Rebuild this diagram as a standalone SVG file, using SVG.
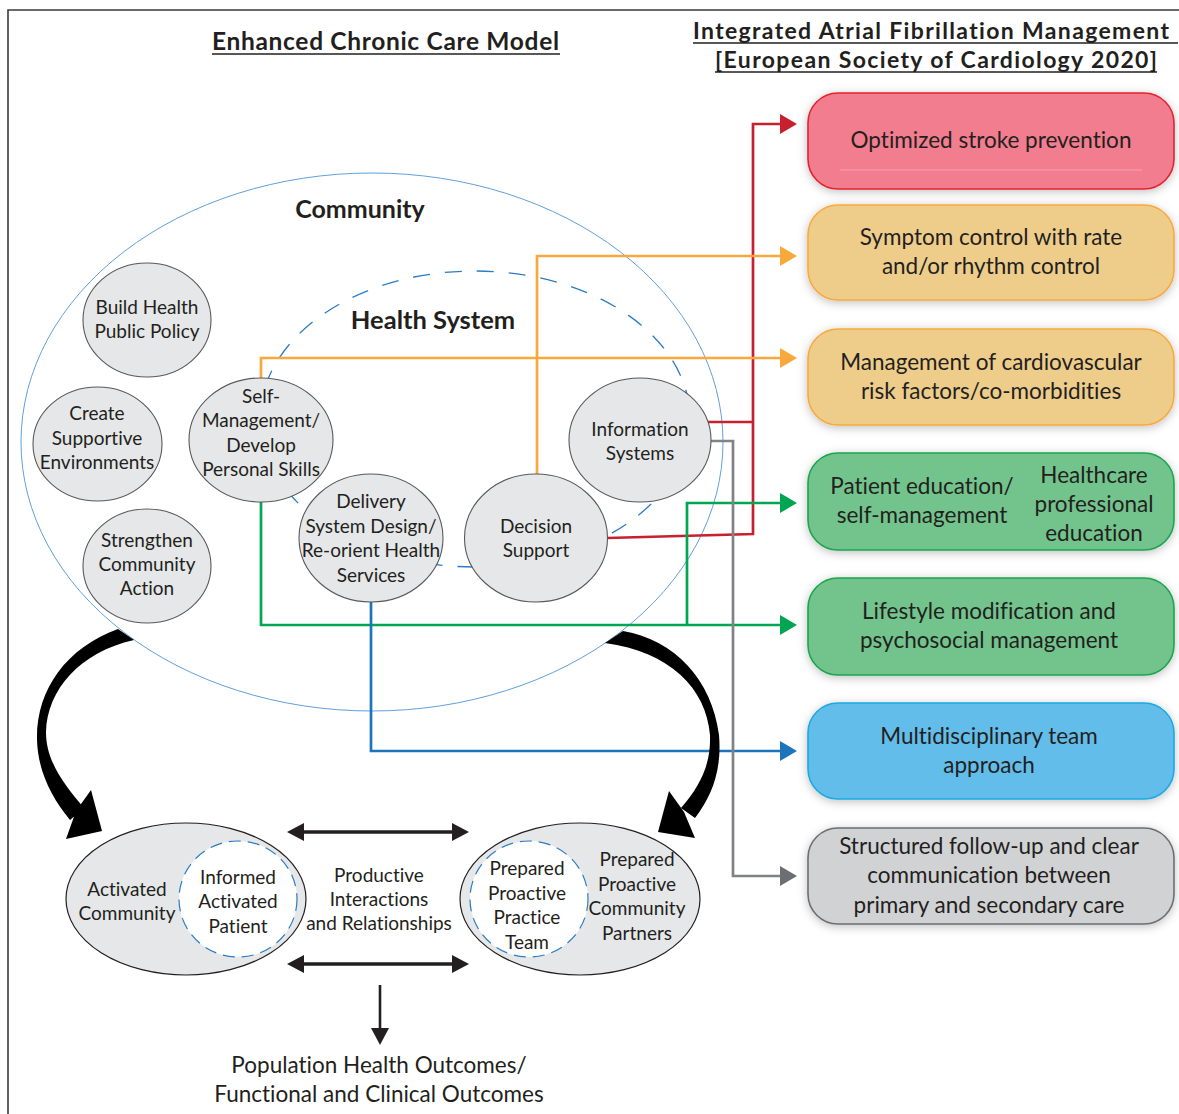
<svg xmlns="http://www.w3.org/2000/svg" width="1179" height="1114" viewBox="0 0 1179 1114">
<defs>
<style>
text{font-family:Lato,"Liberation Sans",sans-serif;fill:#231f20;font-variant-ligatures:none;}
.t{font-size:19px;text-anchor:middle;}
.bt{font-size:22.5px;text-anchor:middle;}
.bb{font-size:22.5px;text-anchor:middle;}
.h{font-weight:bold;}
.circ{fill:#e6e7e8;stroke:#58595b;stroke-width:1.1;}
.conn{fill:none;stroke-width:2.7;stroke-linejoin:miter;}
.box{stroke-width:1.6;filter:url(#sh);}
.gl{stroke:#fff;stroke-opacity:0.3;stroke-width:1;}
</style>
<filter id="sh" x="-10%" y="-20%" width="120%" height="140%">
<feDropShadow dx="0" dy="2" stdDeviation="5" flood-color="#000" flood-opacity="0.25"/>
</filter>
<marker id="mR" markerUnits="userSpaceOnUse" markerWidth="18" markerHeight="20" refX="2" refY="10" orient="auto"><path d="M0,0 L17,10 L0,20 Z" fill="#c8202f"/></marker>
<marker id="mO" markerUnits="userSpaceOnUse" markerWidth="18" markerHeight="20" refX="2" refY="10" orient="auto"><path d="M0,0 L17,10 L0,20 Z" fill="#f9a93b"/></marker>
<marker id="mG" markerUnits="userSpaceOnUse" markerWidth="18" markerHeight="20" refX="2" refY="10" orient="auto"><path d="M0,0 L17,10 L0,20 Z" fill="#00a651"/></marker>
<marker id="mB" markerUnits="userSpaceOnUse" markerWidth="18" markerHeight="20" refX="2" refY="10" orient="auto"><path d="M0,0 L17,10 L0,20 Z" fill="#1c75bc"/></marker>
<marker id="mY" markerUnits="userSpaceOnUse" markerWidth="18" markerHeight="20" refX="2" refY="10" orient="auto"><path d="M0,0 L17,10 L0,20 Z" fill="#6d6e71"/></marker>
<marker id="mK" markerUnits="userSpaceOnUse" markerWidth="18" markerHeight="20" refX="2" refY="9" orient="auto-start-reverse"><path d="M0,0 L17,9 L0,18 Z" fill="#231f20"/></marker>
</defs>
<rect width="1179" height="1114" fill="#fff"/>
<path d="M8,1114 V10 H1179" fill="none" stroke="#3a3a3a" stroke-width="1.6"/>

<g id="titles">
<text x="212" y="50" class="h" style="font-size:24.5px" textLength="347" lengthAdjust="spacing">Enhanced Chronic Care Model</text>
<line x1="212" y1="54" x2="560" y2="54" stroke="#231f20" stroke-width="1.5"/>
<text x="693" y="39" class="h" style="font-size:23px" textLength="476" lengthAdjust="spacing">Integrated Atrial Fibrillation Management</text>
<line x1="693" y1="43" x2="1178" y2="43" stroke="#231f20" stroke-width="1.5"/>
<text x="715" y="68" class="h" style="font-size:23px" textLength="442" lengthAdjust="spacing">[European Society of Cardiology 2020]</text>
<line x1="715" y1="72" x2="1157" y2="72" stroke="#231f20" stroke-width="1.5"/>
</g>

<g id="community">
<ellipse cx="372" cy="442" rx="351" ry="269" fill="none" stroke="#5fa0dc" stroke-width="1"/>
<text x="360" y="218" class="h" style="font-size:25px" text-anchor="middle">Community</text>
</g>
<g id="health-system">
<ellipse cx="475" cy="419" rx="215" ry="148" fill="none" stroke="#2b7cc4" stroke-width="1.3" stroke-dasharray="17 15"/>
<text x="433" y="329" class="h" style="font-size:25.5px" text-anchor="middle">Health System</text>
</g>

<g id="connectors">
<path class="conn" stroke="#c8202f" d="M607,538 L753,534 L753,124 L782,124" marker-end="url(#mR)"/>
<path class="conn" stroke="#c8202f" d="M707,422 L753,422"/>
<path class="conn" stroke="#f9a93b" d="M537,474 L537,256 L782,256" marker-end="url(#mO)"/>
<path class="conn" stroke="#f9a93b" d="M261,378 L261,358 L782,358" marker-end="url(#mO)"/>
<path class="conn" stroke="#00a651" d="M261,502 L261,625 L782,625" marker-end="url(#mG)"/>
<path class="conn" stroke="#00a651" d="M687,625 L687,503 L782,503" marker-end="url(#mG)"/>
<path class="conn" stroke="#1c75bc" d="M371,602 L371,751 L782,751" marker-end="url(#mB)"/>
<path class="conn" stroke="#808285" d="M711,441 L733,441 L733,876 L782,876" marker-end="url(#mY)"/>
<path fill="#000" d="M118,629 C66,648 36,690 37,740 C38,772 52,798 70,820 L84,808 C62,782 46,760 46,732 C47,690 80,652 134,640 Z"/>
<path fill="#000" d="M102,831 L91,790 L76,811 L66,839 Z"/>
<path fill="#000" d="M623,631 C675,640 712,680 719,735 C722,770 712,796 695,818 L681,808 C700,786 711,765 710,735 C706,688 670,652 605,643 Z"/>
<path fill="#000" d="M658,832 L669,791 L684,812 L695,838 Z"/>
<line x1="302" y1="832" x2="454" y2="832" stroke="#231f20" stroke-width="3.4" marker-start="url(#mK)" marker-end="url(#mK)"/>
<line x1="302" y1="964" x2="454" y2="964" stroke="#231f20" stroke-width="3.4" marker-start="url(#mK)" marker-end="url(#mK)"/>
<line x1="380" y1="985" x2="380" y2="1030" stroke="#231f20" stroke-width="2.6" marker-end="url(#mK)"/>
</g>

<g id="build-health-public-policy"><ellipse class="circ" cx="147" cy="320" rx="64" ry="57"/><text class="t" x="147" y="314">Build Health</text><text class="t" x="147" y="338">Public Policy</text></g>
<g id="create-supportive-environments"><ellipse class="circ" cx="97.5" cy="444" rx="64.5" ry="57"/><text class="t" x="97" y="420">Create</text><text class="t" x="97" y="445">Supportive</text><text class="t" x="97" y="469">Environments</text></g>
<g id="strengthen-community-action"><ellipse class="circ" cx="147" cy="566" rx="64" ry="57"/><text class="t" x="147" y="547">Strengthen</text><text class="t" x="147" y="571">Community</text><text class="t" x="147" y="595">Action</text></g>
<g id="self-management"><ellipse class="circ" cx="261" cy="440" rx="72" ry="62"/><text class="t" x="261" y="403">Self-</text><text class="t" x="261" y="427">Management/</text><text class="t" x="261" y="452">Develop</text><text class="t" x="261" y="476">Personal Skills</text></g>
<g id="delivery-system-design"><ellipse class="circ" cx="371" cy="538" rx="72" ry="64"/><text class="t" x="371" y="508">Delivery</text><text class="t" x="371" y="533">System Design/</text><text class="t" x="371" y="557">Re-orient Health</text><text class="t" x="371" y="582">Services</text></g>
<g id="decision-support"><ellipse class="circ" cx="536" cy="538" rx="71.5" ry="64"/><text class="t" x="536" y="533">Decision</text><text class="t" x="536" y="557">Support</text></g>
<g id="information-systems"><ellipse class="circ" cx="640" cy="440" rx="71" ry="62"/><text class="t" x="640" y="436">Information</text><text class="t" x="640" y="460">Systems</text></g>

<g id="box-stroke"><rect class="box" x="808" y="93" width="366" height="96" rx="30" fill="#f27d8e" stroke="#e3232f"/><line class="gl" x1="840" y1="170" x2="1142" y2="170"/><text class="bt" x="991" y="148">Optimized stroke prevention</text></g>
<g id="box-symptom"><rect class="box" x="808" y="205" width="366" height="95" rx="30" fill="#eecd8b" stroke="#f9a93b"/><text class="bt" x="991" y="245">Symptom control with rate</text><text class="bt" x="991" y="274">and/or rhythm control</text></g>
<g id="box-risk"><rect class="box" x="808" y="329" width="366" height="96" rx="30" fill="#eecd8b" stroke="#f9a93b"/><text class="bt" x="991" y="370">Management of cardiovascular</text><text class="bt" x="991" y="399">risk factors/co-morbidities</text></g>
<g id="box-education"><rect class="box" x="808" y="453" width="366" height="97" rx="30" fill="#72c48c" stroke="#1aa54d"/><text class="bt" x="922" y="494">Patient education/</text><text class="bt" x="922" y="523">self-management</text><text class="bt" x="1094" y="483">Healthcare</text><text class="bt" x="1094" y="512">professional</text><text class="bt" x="1094" y="541">education</text></g>
<g id="box-lifestyle"><rect class="box" x="808" y="578" width="366" height="97" rx="30" fill="#72c48c" stroke="#1aa54d"/><text class="bt" x="989" y="619">Lifestyle modification and</text><text class="bt" x="989" y="648">psychosocial management</text></g>
<g id="box-team"><rect class="box" x="808" y="703" width="366" height="96" rx="30" fill="#62bdeb" stroke="#1ba9e1"/><text class="bt" x="989" y="744">Multidisciplinary team</text><text class="bt" x="989" y="773">approach</text></g>
<g id="box-followup"><rect class="box" x="808" y="828" width="366" height="96" rx="30" fill="#d1d2d4" stroke="#6d6e71"/><text class="bt" x="989" y="854">Structured follow-up and clear</text><text class="bt" x="989" y="883">communication between</text><text class="bt" x="989" y="913">primary and secondary care</text></g>

<g id="activated-community"><ellipse cx="186" cy="899" rx="120" ry="76" fill="#e6e7e8" stroke="#231f20" stroke-width="1.2"/><ellipse cx="238" cy="899" rx="59" ry="58" fill="#fff" stroke="#2b7cc4" stroke-width="1.2" stroke-dasharray="12 7"/><text class="t" x="127" y="896">Activated</text><text class="t" x="127" y="920">Community</text><text class="t" x="238" y="884">Informed</text><text class="t" x="238" y="908">Activated</text><text class="t" x="238" y="933">Patient</text></g>
<g id="productive-interactions"><text class="t" x="379" y="882">Productive</text><text class="t" x="379" y="906">Interactions</text><text class="t" x="379" y="930">and Relationships</text></g>
<g id="prepared-team"><ellipse cx="580" cy="899" rx="120" ry="76" fill="#e6e7e8" stroke="#231f20" stroke-width="1.2"/><ellipse cx="529" cy="899" rx="59" ry="58" fill="#fff" stroke="#2b7cc4" stroke-width="1.2" stroke-dasharray="12 7"/><text class="t" x="527" y="875">Prepared</text><text class="t" x="527" y="900">Proactive</text><text class="t" x="527" y="924">Practice</text><text class="t" x="527" y="949">Team</text><text class="t" x="637" y="866">Prepared</text><text class="t" x="637" y="891">Proactive</text><text class="t" x="637" y="915">Community</text><text class="t" x="637" y="940">Partners</text></g>
<g id="outcomes"><text class="bb" x="379" y="1073">Population Health Outcomes/</text><text class="bb" x="379" y="1102">Functional and Clinical Outcomes</text></g>
</svg>
